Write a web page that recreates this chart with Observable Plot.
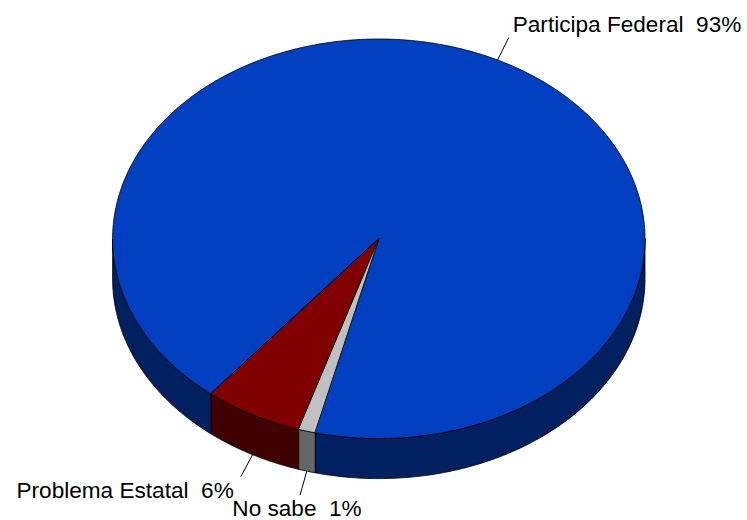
<!DOCTYPE html>
<html><head><meta charset="utf-8">
<script src="https://cdn.jsdelivr.net/npm/d3@7"></script>
<script src="https://cdn.jsdelivr.net/npm/@observablehq/plot@0.6"></script>
<style>html,body{margin:0;padding:0;background:#fff;} svg{display:block}</style>
</head><body><div id="chart"></div>
<script>
// ---- data ----
const categories = ["Participa Federal", "Problema Estatal", "No sabe"];
const values = [93, 6, 1];
const labels = ["Participa Federal  93%", "Problema Estatal  6%", "No sabe  1%"];
const topColors = ["#0040c0", "#800000", "#c0c0c0"];
const sideColors = ["#002060", "#400000", "#666666"];

// ---- layout ----
const W = 747, H = 520;
const cx = 378.3, cy = 238.3, rx = 266.2, ry = 199.8, depth = 40;
const startAngle = 463.9; // screen degrees (clockwise from +x); slices run counterclockwise
const labelLayout = [
  {dx: 4, dy: -6, anchor: "start"},
  {dx: -7, dy: 21, anchor: "end"},
  {dx: -3, dy: 20.5, anchor: "middle"}
];

const total = d3.sum(values);
let acc = startAngle;
const slices = values.map((v, i) => {
  const a1 = acc, a0 = acc - v / total * 360; acc = a0;
  return {i, a0, a1};
});
const rad = d => d * Math.PI / 180;
const pt = (t, dz = 0) => [cx + rx * Math.cos(rad(t)), cy + ry * Math.sin(rad(t)) + dz];
function arc(a0, a1) {
  const n = Math.max(2, Math.ceil(Math.abs(a1 - a0)) + 1);
  return d3.range(n).map(k => a0 + (a1 - a0) * k / (n - 1));
}
const topPts = [], sidePts = [];
slices.forEach(s => {
  const poly = [[cx, cy], ...arc(s.a0, s.a1).map(t => pt(t))];
  poly.forEach(([x, y]) => topPts.push({id: "t" + s.i, x, y, fill: topColors[s.i]}));
  for (const base of [-360, 0, 360]) {
    const lo = Math.max(s.a0, base), hi = Math.min(s.a1, base + 180);
    if (hi > lo) {
      const ts = arc(lo, hi);
      const p = [...ts.map(t => pt(t)), ...ts.slice().reverse().map(t => pt(t, depth))];
      const id = "s" + s.i + "_" + base;
      p.forEach(([x, y]) => sidePts.push({id, x, y, fill: sideColors[s.i]}));
    }
  }
});
const leaders = slices.map(s => {
  const m = (s.a0 + s.a1) / 2;
  const mm = ((m % 360) + 360) % 360;
  const dz = (mm > 0 && mm < 180) ? depth : 0;
  const [x1, y1] = pt(m, dz);
  const x2 = x1 + 25 * Math.cos(rad(m)), y2 = y1 + 25 * Math.sin(rad(m));
  return {x1, y1, x2, y2, label: labels[s.i], ...labelLayout[s.i]};
});

const font = "'Liberation Sans', Arial, sans-serif";
const marks = [
  Plot.line(sidePts, {x: "x", y: "y", z: "id", fill: "fill", stroke: "#000", strokeWidth: 0.8, curve: "linear-closed"}),
  Plot.line(topPts, {x: "x", y: "y", z: "id", fill: "fill", stroke: "#000", strokeWidth: 0.8, curve: "linear-closed"}),
  Plot.link(leaders, {x1: "x1", y1: "y1", x2: "x2", y2: "y2", stroke: "#000", strokeWidth: 1}),
  ...leaders.map(l => Plot.text([l], {x: "x2", y: "y2", text: "label", textAnchor: l.anchor, lineAnchor: "bottom",
    dx: l.dx, dy: l.dy, fontSize: 22.6, fontFamily: font, fill: "#000"}))
];
const chart = Plot.plot({
  width: W, height: H, margin: 0,
  x: {domain: [0, W], range: [0, W], axis: null},
  y: {domain: [0, H], range: [0, H], axis: null},
  color: {type: "identity"},
  style: {fontFamily: font, background: "#fff"},
  marks
});
document.getElementById("chart").appendChild(chart);
</script>
</body></html>
